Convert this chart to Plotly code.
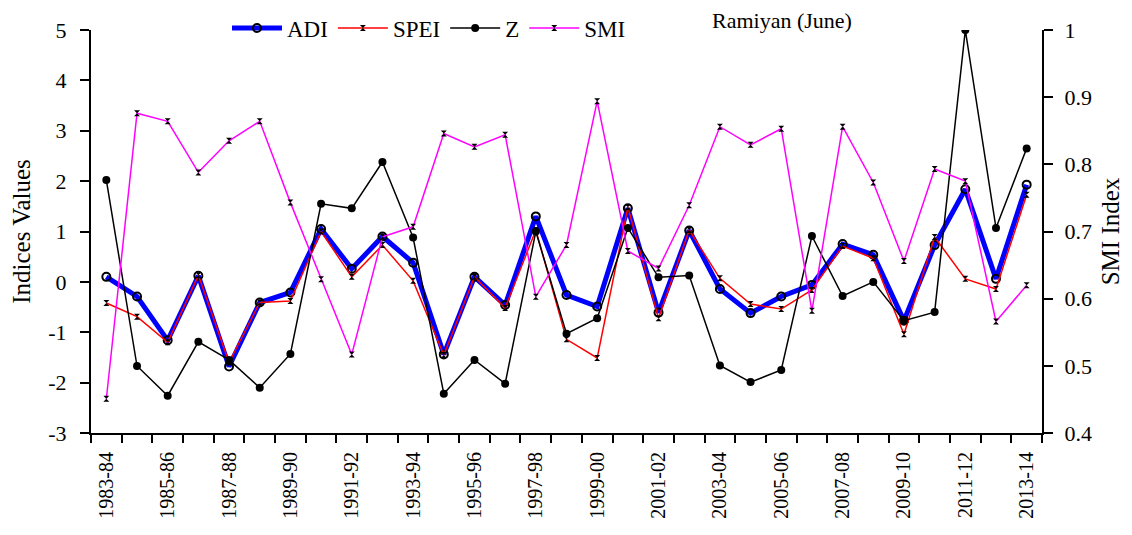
import plotly.graph_objects as go

seasons = [f"{y}-{str(y+1)[-2:]}" for y in range(1983, 2014)]

adi = [0.10, -0.29, -1.16, 0.12, -1.68, -0.41, -0.21, 1.05, 0.26, 0.90, 0.38, -1.44,
       0.10, -0.46, 1.30, -0.26, -0.49, 1.46, -0.61, 1.02, -0.14, -0.62, -0.29, -0.06,
       0.75, 0.54, -0.77, 0.73, 1.84, 0.06, 1.93]
spei = [-0.42, -0.69, -1.20, 0.13, -1.60, -0.41, -0.38, 1.00, 0.10, 0.73, 0.02, -1.45,
        0.10, -0.52, 1.03, -1.14, -1.51, 1.48, -0.72, 1.03, 0.07, -0.44, -0.54, -0.16,
        0.71, 0.47, -1.04, 0.89, 0.06, -0.14, 1.73]
z = [2.02, -1.67, -2.26, -1.19, -1.55, -2.10, -1.43, 1.55, 1.46, 2.38, 0.88, -2.22,
     -1.55, -2.02, 1.00, -1.03, -0.72, 1.07, 0.09, 0.125, -1.66, -1.99, -1.75, 0.91,
     -0.28, 0.00, -0.77, -0.60, 5.00, 1.07, 2.65]
smi = [0.451, 0.876, 0.864, 0.788, 0.835, 0.864, 0.743, 0.629, 0.517, 0.692, 0.707, 0.846,
       0.826, 0.844, 0.603, 0.680, 0.894, 0.671, 0.645, 0.739, 0.856, 0.829, 0.853, 0.582,
       0.856, 0.773, 0.656, 0.793, 0.775, 0.566, 0.620]

left_ticks = [-3, -2, -1, 0, 1, 2, 3, 4, 5]
left_labels = ["-3", "-2", "-1", "0", "1", "2", "3", "4", "5"]
right_ticks = [0.4, 0.5, 0.6, 0.7, 0.8, 0.9, 1.0]
right_labels = ["0.4", "0.5", "0.6", "0.7", "0.8", "0.9", "1"]

xs = list(range(len(seasons)))
font = "Times New Roman, Liberation Serif, serif"

fig = go.Figure()
fig.add_trace(go.Scatter(x=xs, y=adi, name="ADI", mode="lines+markers",
                         line=dict(color="#0000FF", width=5),
                         marker=dict(symbol="circle-open", size=8, color="black",
                                     line=dict(width=2, color="black"))))
fig.add_trace(go.Scatter(x=xs, y=spei, name="SPEI", mode="lines+markers",
                         line=dict(color="#FF0000", width=1.5),
                         marker=dict(symbol="hourglass", size=6, color="black")))
fig.add_trace(go.Scatter(x=xs, y=z, name="Z", mode="lines+markers",
                         line=dict(color="black", width=1.5),
                         marker=dict(symbol="circle", size=8, color="black")))
fig.add_trace(go.Scatter(x=xs, y=smi, name="SMI", mode="lines+markers", yaxis="y2",
                         line=dict(color="#FF00FF", width=1.5),
                         marker=dict(symbol="hourglass", size=6, color="black")))

fig.update_layout(
    width=1116, height=519,
    margin=dict(l=83, r=82, t=22, b=94, autoexpand=False),
    paper_bgcolor="white", plot_bgcolor="white",
    font=dict(family=font, size=22, color="black"),
    title=dict(text="Ramiyan (June)", x=0.6935, xanchor="center", y=0.977, yanchor="middle",
               font=dict(family=font, size=22, color="black")),
    showlegend=True,
    legend=dict(orientation="h", x=0.143, xanchor="left", y=1.005, yanchor="middle",
                bgcolor="rgba(0,0,0,0)", font=dict(family=font, size=23),
                itemwidth=50, tracegroupgap=0),
    xaxis=dict(range=[-0.5, len(seasons) - 0.5], tickmode="array",
               tickvals=xs[::2], ticktext=seasons[::2], tickangle=-90,
               ticks="", ticklen=0, showgrid=False, zeroline=False,
               showline=True, linecolor="black", linewidth=2, automargin=False,
               ticklabelstandoff=9,
               tickfont=dict(family=font, size=20),
               minor=dict(tick0=-0.5, dtick=1, ticks="outside", ticklen=8,
                          tickcolor="black", tickwidth=1.5, showgrid=False)),
    yaxis=dict(range=[-3, 5], tickmode="array", tickvals=left_ticks, ticktext=left_labels,
               ticks="outside", ticklen=9, tickwidth=1.5, automargin=False,
               ticklabelstandoff=9,
               tickcolor="black", showgrid=False, zeroline=False,
               showline=True, linecolor="black", linewidth=2,
               tickfont=dict(family=font, size=22),
               title=dict(text="Indices Values", font=dict(family=font, size=25), standoff=13)),
    yaxis2=dict(range=[0.4, 1.0], tickmode="array", tickvals=right_ticks, ticktext=right_labels,
                overlaying="y", side="right", automargin=False,
                ticks="outside", ticklen=9, tickwidth=1.5, tickcolor="black",
                ticklabelstandoff=7,
                showgrid=False, zeroline=False, showline=True, linecolor="black",
                linewidth=2, tickfont=dict(family=font, size=22),
                title=dict(text="SMI Index", font=dict(family=font, size=25), standoff=16)),
)

fig.write_html("out.html")
